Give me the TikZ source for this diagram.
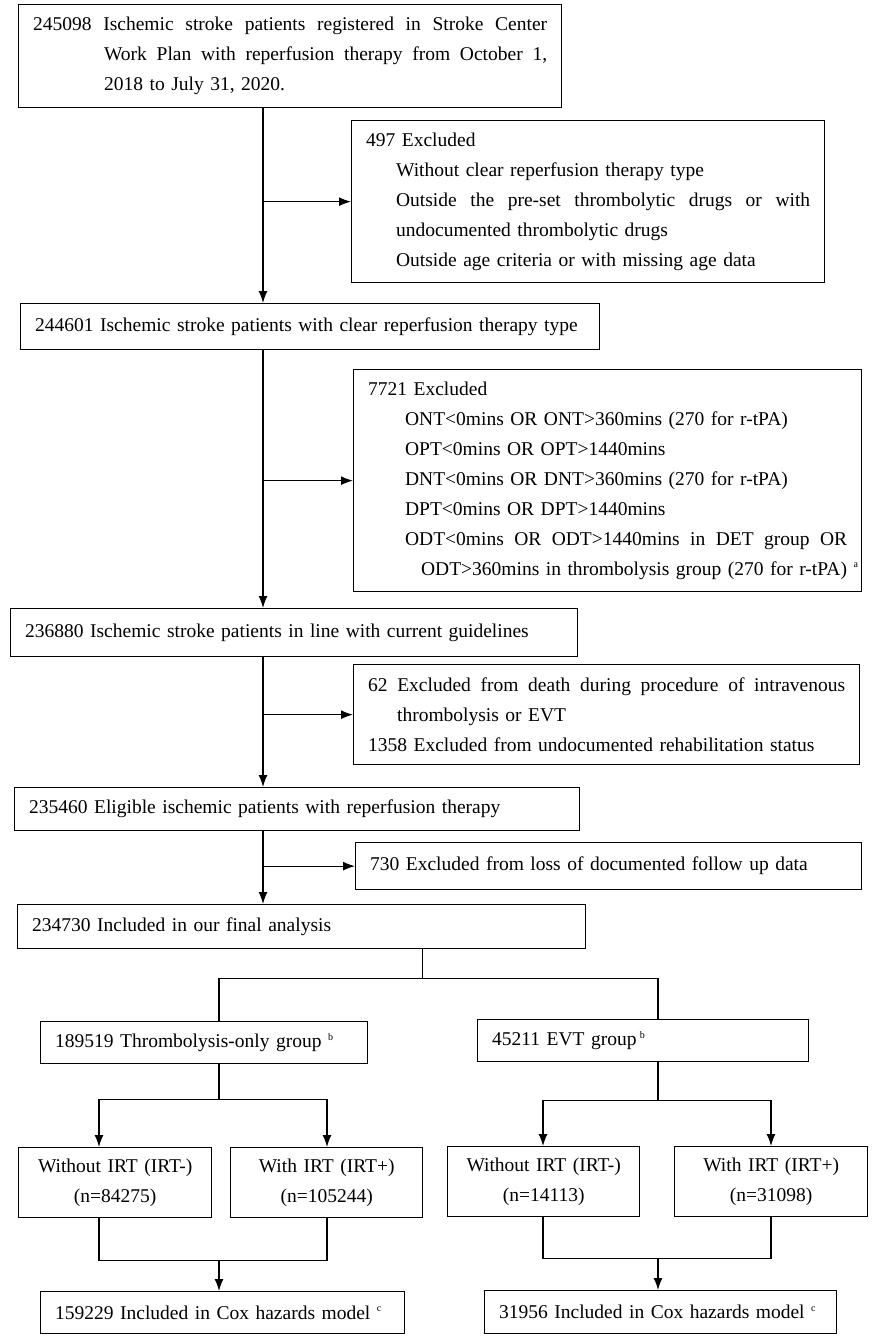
\documentclass[tikz,border=0pt]{standalone}
\usepackage{fontspec}
\setmainfont{Liberation Serif}
\usetikzlibrary{arrows.meta}
\newcommand{\supl}[1]{\textsuperscript{\fontsize{10}{10}\selectfont #1}}
\newcommand{\jst}{\spaceskip=.3333em plus .6em minus .05em\relax}

\begin{document}
\begin{tikzpicture}[x=1pt,y=-1pt,
    box/.style={draw,line width=1.3pt,anchor=north west,inner xsep=14.5pt,inner ysep=0pt,font=\fontsize{19.5}{30}\selectfont},
    jbox/.style={box,align=justify},
    sbox/.style={box,align=center},
    ln/.style={line width=1.3pt},
    arr/.style={line width=1.3pt,-{Latex[length=12pt,width=9pt]}}]
\useasboundingbox (0,0) rectangle (877,1339);
% main column
\node[jbox,text width=514pt,minimum height=103pt](b1)at(18,4){\jst\hangindent=71pt\hangafter=1 245098 Ischemic stroke patients registered in Stroke Center\linebreak Work Plan with reperfusion therapy from October 1,\linebreak 2018 to July 31, 2020.\par};
\node[box,text width=550pt,minimum height=46pt](b2)at(20,303){244601 Ischemic stroke patients with clear reperfusion therapy type};
\node[box,text width=538pt,minimum height=48pt](b3)at(10,608){236880 Ischemic stroke patients in line with current guidelines};
\node[box,text width=536pt,minimum height=43pt](b4)at(14,787){235460 Eligible ischemic patients with reperfusion therapy};
\node[box,text width=539pt,minimum height=44pt](b5)at(17,904){234730 Included in our final analysis};
% exclusions
\node[jbox,text width=444pt,minimum height=162pt](e1)at(351,120){\jst 497 Excluded\par
  \leftskip=30pt Without clear reperfusion therapy type\\
  Outside the pre-set thrombolytic drugs or with\linebreak undocumented thrombolytic drugs\\
  Outside age criteria or with missing age data\par};
\node[jbox,text width=479pt,minimum height=222pt](e2)at(353,369){\jst 7721 Excluded\par
  \leftskip=37pt ONT<0mins OR ONT>360mins (270 for r-tPA)\\
  OPT<0mins OR OPT>1440mins\\
  DNT<0mins OR DNT>360mins (270 for r-tPA)\\
  DPT<0mins OR DPT>1440mins\par
  \hangindent=16pt\hangafter=1 ODT<0mins OR ODT>1440mins in DET group OR\linebreak
  \mbox{ODT>360mins in thrombolysis group (270 for r-tPA) \supl{a}}\par};
\node[jbox,text width=477pt,minimum height=100pt](e3)at(353,664){\jst\hangindent=29pt\hangafter=1 62 Excluded from death during procedure of intravenous\linebreak thrombolysis or EVT\par
  1358 Excluded from undocumented rehabilitation status\par};
\node[box,text width=477pt,minimum height=47pt](e4)at(355,842){730 Excluded from loss of documented follow up data};
% groups
\node[box,text width=298pt,minimum height=42pt](g1)at(40,1021){189519 Thrombolysis-only group \supl{b}};
\node[box,text width=302pt,minimum height=42pt](g2)at(477,1019){45211 EVT group\,\supl{b}};
\node[sbox,text width=164pt,minimum height=70pt](s1)at(18,1147){Without IRT (IRT-)\\(n=84275)};
\node[sbox,text width=163pt,minimum height=70pt](s2)at(230,1147){With IRT (IRT+)\\(n=105244)};
\node[sbox,text width=163pt,minimum height=70pt](s3)at(447,1146){Without IRT (IRT-)\\(n=14113)};
\node[sbox,text width=164pt,minimum height=70pt](s4)at(674,1146){With IRT (IRT+)\\(n=31098)};
\node[box,text width=335pt,minimum height=42pt](c1)at(40,1291){159229 Included in Cox hazards model \supl{c}};
\node[box,text width=323pt,minimum height=43pt](c2)at(484,1290){31956 Included in Cox hazards model \supl{c}};
% connectors
\coordinate(sp)at(263,0);
\coordinate(mx)at(422.5,0);
\coordinate(lx)at(219,0);
\coordinate(rx)at(658,0);
\coordinate(l1)at(99,0);
\coordinate(l2)at(327,0);
\coordinate(r1)at(543,0);
\coordinate(r2)at(771,0);
\draw[arr](b1.south -| sp)--(b2.north -| sp);
\draw[arr](b2.south -| sp)--(b3.north -| sp);
\draw[arr](b3.south -| sp)--(b4.north -| sp);
\draw[arr](b4.south -| sp)--(b5.north -| sp);
\draw[arr](e1.west -| sp)--(e1.west);
\draw[arr](e2.west -| sp)--(e2.west);
\draw[arr](e3.west -| sp)--(e3.west);
\draw[arr](e4.west -| sp)--(e4.west);
\draw[ln](b5.south -| mx)--++(0,29)coordinate(fork);
\draw[ln](g1.north -| lx)|-(fork)-|(g2.north -| rx);
\draw[ln](g1.south -| lx)--++(0,35)coordinate(lfork);
\draw[arr](lfork)-|(s1.north -| l1);
\draw[arr](lfork)-|(s2.north -| l2);
\draw[ln](g2.south -| rx)--++(0,38)coordinate(rfork);
\draw[arr](rfork)-|(s3.north -| r1);
\draw[arr](rfork)-|(s4.north -| r2);
\draw[ln](s1.south -| l1)--++(0,42)coordinate(ljoin)-|(s2.south -| l2);
\draw[arr](ljoin -| lx)--(c1.north -| lx);
\draw[ln](s3.south -| r1)--++(0,41)coordinate(rjoin)-|(s4.south -| r2);
\draw[arr](rjoin -| rx)--(c2.north -| rx);
\end{tikzpicture}
\end{document}
